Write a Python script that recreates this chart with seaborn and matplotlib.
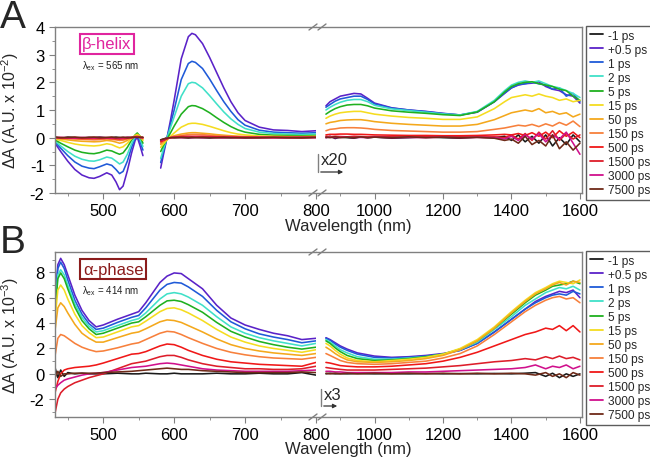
import numpy as np
import pandas as pd
import matplotlib
matplotlib.use('Agg')
import matplotlib.pyplot as plt
from matplotlib.lines import Line2D
from matplotlib.ticker import MultipleLocator
import seaborn as sns

# --- data ---------------------------------------------------------------
DELAYS = ['-1 ps', '+0.5 ps', '1 ps', '2 ps', '5 ps', '15 ps', '50 ps',
          '150 ps', '500 ps', '1500 ps', '3000 ps', '7500 ps']
COLORS = ['#1a1a1a', '#5a22c8', '#1f5ad8', '#40e0c8', '#1fb01f', '#f5dc20',
          '#f4a81c', '#f7803c', '#f01818', '#dd1d2a', '#d0108c', '#6e2a18']

# panel A, visible part below the pump (x 10^-2)
A_VIS1_WL = [432, 440, 450, 460, 470, 480, 487, 495, 505, 512, 518, 523, 528,
             534, 540, 545, 548, 552, 556]
A_VIS1 = [
    [0.02, -0.03, 0.02, 0.0, -0.02, 0.01, 0.0, 0.02, -0.01, 0.0, 0.02, 0.0, -0.02, 0.01, 0.0, 0.02, 0.0, -0.01, 0.01],
    [-0.2, -0.5, -0.85, -1.15, -1.35, -1.45, -1.47, -1.4, -1.27, -1.35, -1.6, -1.88, -1.75, -1.2, -0.55, -0.1, 0.02, -0.3, -0.65],
    [-0.15, -0.38, -0.65, -0.88, -1.03, -1.1, -1.12, -1.05, -0.95, -1.0, -1.15, -1.3, -1.22, -0.85, -0.35, -0.02, 0.08, -0.15, -0.45],
    [-0.12, -0.3, -0.5, -0.67, -0.78, -0.84, -0.85, -0.8, -0.7, -0.74, -0.85, -0.95, -0.88, -0.6, -0.22, 0.04, 0.12, -0.05, -0.32],
    [-0.08, -0.2, -0.33, -0.45, -0.53, -0.57, -0.58, -0.54, -0.45, -0.48, -0.55, -0.6, -0.55, -0.35, -0.08, 0.1, 0.17, 0.05, -0.2],
    [-0.05, -0.1, -0.17, -0.23, -0.27, -0.29, -0.3, -0.28, -0.22, -0.25, -0.32, -0.37, -0.33, -0.2, -0.03, 0.08, 0.12, 0.05, -0.1],
    [-0.02, -0.05, -0.08, -0.11, -0.13, -0.14, -0.15, -0.14, -0.1, -0.12, -0.16, -0.2, -0.17, -0.1, 0.0, 0.06, 0.08, 0.04, -0.05],
    [0.0, -0.02, -0.04, -0.05, -0.06, -0.07, -0.08, -0.07, -0.05, -0.06, -0.08, -0.1, -0.09, -0.05, 0.0, 0.04, 0.05, 0.02, -0.02],
    [0.0, -0.01, -0.02, -0.02, -0.03, -0.03, -0.03, -0.03, -0.02, -0.03, -0.04, -0.05, -0.04, -0.02, 0.0, 0.02, 0.03, 0.01, 0.0],
    [0.01, 0.0, -0.01, 0.01, -0.01, 0.0, 0.01, -0.01, 0.0, 0.01, -0.02, -0.02, -0.01, 0.0, 0.01, 0.02, 0.02, 0.0, 0.01],
    [0.0, 0.01, 0.0, -0.01, 0.01, 0.0, -0.01, 0.01, 0.0, -0.01, 0.0, -0.01, 0.0, 0.01, 0.0, 0.01, 0.02, 0.01, 0.0],
    [0.02, 0.0, 0.01, 0.02, 0.0, 0.01, 0.02, 0.0, 0.01, 0.02, 0.0, 0.01, 0.02, 0.0, 0.01, 0.02, 0.01, 0.02, 0.01],
]

# panel A, visible part above the pump
A_VIS2_WL = [581, 585, 590, 595, 600, 610, 620, 625, 630, 640, 650, 660, 670,
             680, 690, 700, 720, 740, 760, 780, 800]
A_VIS2 = [
    [-0.08, -0.05, 0.0, 0.02, 0.0, 0.01, -0.01, 0.0, 0.01, 0.0, -0.01, 0.01, 0.0, 0.0, 0.01, -0.01, 0.0, 0.01, 0.0, -0.01, 0.02],
    [-1.1, -0.6, 0.0, 0.65, 1.35, 2.85, 3.65, 3.77, 3.72, 3.4, 2.9, 2.35, 1.8, 1.3, 0.9, 0.62, 0.38, 0.28, 0.26, 0.22, 0.25],
    [-0.9, -0.5, 0.0, 0.5, 1.0, 2.1, 2.68, 2.76, 2.72, 2.5, 2.12, 1.7, 1.3, 0.95, 0.65, 0.45, 0.27, 0.2, 0.18, 0.16, 0.18],
    [-0.75, -0.4, 0.0, 0.38, 0.75, 1.5, 1.95, 2.0, 1.98, 1.8, 1.52, 1.22, 0.93, 0.68, 0.48, 0.33, 0.2, 0.15, 0.13, 0.12, 0.13],
    [-0.5, -0.28, -0.05, 0.18, 0.42, 0.85, 1.12, 1.16, 1.15, 1.05, 0.9, 0.72, 0.55, 0.4, 0.28, 0.2, 0.12, 0.09, 0.08, 0.07, 0.08],
    [-0.35, -0.22, -0.08, 0.05, 0.17, 0.38, 0.5, 0.52, 0.52, 0.48, 0.41, 0.33, 0.25, 0.18, 0.13, 0.1, 0.06, 0.05, 0.04, 0.04, 0.05],
    [-0.25, -0.15, -0.05, 0.02, 0.07, 0.13, 0.17, 0.18, 0.18, 0.16, 0.14, 0.11, 0.09, 0.07, 0.05, 0.04, 0.03, 0.02, 0.02, 0.02, 0.03],
    [-0.2, -0.12, -0.04, 0.0, 0.04, 0.08, 0.11, 0.12, 0.12, 0.11, 0.09, 0.07, 0.06, 0.05, 0.04, 0.03, 0.02, 0.02, 0.01, 0.01, 0.02],
    [-0.15, -0.1, -0.04, 0.0, 0.02, 0.04, 0.05, 0.05, 0.05, 0.05, 0.04, 0.03, 0.03, 0.02, 0.02, 0.01, 0.01, 0.01, 0.0, 0.01, 0.01],
    [-0.12, -0.08, -0.03, 0.0, 0.01, 0.02, 0.02, 0.03, 0.02, 0.02, 0.02, 0.01, 0.01, 0.01, 0.0, 0.01, 0.0, 0.0, 0.01, 0.0, 0.01],
    [-0.1, -0.07, -0.02, 0.0, 0.01, 0.0, 0.01, 0.0, 0.01, 0.0, 0.01, 0.0, 0.0, 0.01, 0.0, 0.0, 0.01, 0.0, 0.0, 0.01, 0.0],
    [-0.08, -0.05, -0.02, 0.0, 0.0, 0.01, 0.0, 0.01, 0.0, 0.01, 0.0, 0.0, 0.01, 0.0, 0.0, 0.0, 0.0, 0.01, 0.0, 0.0, 0.01],
]

# panel A, near infrared (already multiplied by 20)
A_NIR_WL = [858, 870, 885, 900, 920, 940, 960, 980, 1000, 1050, 1100, 1150, 1200,
            1250, 1300, 1350, 1380, 1400, 1420, 1440, 1460, 1480, 1500, 1520,
            1540, 1560, 1580, 1600]
A_NIR = [
    [0.0, 0.05, -0.03, 0.02, 0.0, -0.02, 0.03, 0.0, 0.02, -0.02, 0.0, 0.03, 0.0, -0.02, 0.02, 0.0, 0.05, -0.1, 0.1, -0.15, 0.05, -0.2, 0.1, -0.3, 0.0, -0.25, 0.1, -0.15],
    [1.15, 1.3, 1.4, 1.5, 1.55, 1.6, 1.58, 1.42, 1.25, 1.08, 1.0, 0.95, 0.88, 0.82, 0.92, 1.3, 1.6, 1.8, 1.9, 1.95, 1.97, 2.02, 1.85, 1.75, 1.7, 1.55, 1.5, 1.25],
    [1.1, 1.2, 1.32, 1.4, 1.45, 1.5, 1.5, 1.38, 1.22, 1.07, 1.0, 0.94, 0.87, 0.82, 0.93, 1.3, 1.62, 1.8, 1.92, 1.95, 2.0, 1.95, 1.9, 1.75, 1.8, 1.5, 1.6, 1.3],
    [1.0, 1.1, 1.2, 1.28, 1.35, 1.38, 1.38, 1.3, 1.17, 1.04, 0.98, 0.92, 0.86, 0.82, 0.95, 1.35, 1.7, 1.9, 2.0, 2.05, 2.0, 2.05, 1.95, 1.85, 1.8, 1.7, 1.6, 1.45],
    [0.85, 0.95, 1.05, 1.12, 1.18, 1.2, 1.2, 1.15, 1.07, 0.97, 0.92, 0.88, 0.83, 0.8, 0.93, 1.3, 1.65, 1.85, 1.95, 2.0, 2.02, 1.95, 1.9, 1.85, 1.75, 1.7, 1.5, 1.35],
    [0.7, 0.78, 0.85, 0.9, 0.93, 0.95, 0.95, 0.9, 0.85, 0.78, 0.73, 0.7, 0.66, 0.66, 0.75, 1.05, 1.3, 1.45, 1.5, 1.55, 1.5, 1.58, 1.5, 1.45, 1.35, 1.4, 1.3, 1.35],
    [0.5, 0.55, 0.58, 0.62, 0.64, 0.65, 0.65, 0.62, 0.58, 0.52, 0.48, 0.45, 0.42, 0.42, 0.48, 0.65, 0.8, 0.9, 0.95, 1.0, 0.95, 1.05, 0.9, 0.95, 0.85, 0.9, 0.75, 0.85],
    [0.25, 0.3, 0.32, 0.35, 0.36, 0.36, 0.35, 0.33, 0.3, 0.26, 0.24, 0.22, 0.2, 0.2, 0.22, 0.3, 0.35, 0.4, 0.45, 0.42, 0.48, 0.4, 0.5, 0.42, 0.55, 0.45, 0.6, 0.4],
    [0.1, 0.12, 0.12, 0.13, 0.13, 0.12, 0.12, 0.11, 0.1, 0.09, 0.08, 0.08, 0.07, 0.07, 0.08, 0.1, 0.12, 0.1, 0.15, 0.08, 0.18, 0.05, 0.2, 0.0, 0.25, 0.05, 0.2, 0.0],
    [0.05, 0.03, 0.05, 0.04, 0.03, 0.05, 0.04, 0.03, 0.04, 0.03, 0.02, 0.03, 0.02, 0.03, 0.02, 0.03, 0.0, 0.1, -0.05, 0.15, -0.1, 0.2, -0.05, 0.25, -0.1, 0.15, -0.05, 0.1],
    [0.0, 0.02, 0.0, 0.01, 0.02, 0.0, 0.01, 0.0, 0.02, 0.0, 0.01, 0.0, 0.02, 0.0, 0.01, 0.0, -0.05, 0.05, -0.1, 0.1, -0.05, 0.15, -0.15, 0.1, -0.05, 0.2, -0.2, -0.6],
    [0.02, 0.0, 0.03, 0.0, 0.02, 0.0, 0.03, 0.0, 0.02, 0.0, 0.03, 0.0, 0.02, 0.0, 0.01, -0.02, -0.1, -0.05, -0.2, 0.05, -0.25, -0.1, -0.3, 0.1, -0.4, -0.15, -0.45, -0.2],
]

# panel B, visible (x 10^-3)
B_VIS_WL = [432, 436, 440, 445, 450, 460, 470, 480, 490, 500, 520, 540, 550, 560,
            580, 590, 600, 610, 620, 640, 660, 680, 700, 720, 740, 760, 780, 800]
B_VIS = [
    [0.5, -0.3, 0.3, -0.2, 0.1, 0.0, 0.05, 0.0, 0.0, 0.0, 0.05, 0.0, 0.0, 0.05, 0.0, 0.0, 0.05, 0.0, 0.0, 0.0, 0.05, 0.0, 0.0, 0.05, 0.0, 0.0, 0.1, -0.1],
    [5.7, 8.6, 9.1, 8.6, 7.8, 6.2, 5.0, 4.2, 3.7, 3.85, 4.3, 4.7, 4.9, 5.6, 7.2, 7.7, 7.95, 7.9, 7.5, 6.7, 5.4, 4.4, 3.85, 3.5, 3.2, 3.0, 2.7, 2.8],
    [5.3, 8.3, 8.8, 8.3, 7.4, 5.8, 4.7, 3.95, 3.5, 3.6, 4.05, 4.45, 4.6, 5.2, 6.6, 7.05, 7.2, 7.15, 6.85, 6.1, 5.0, 4.1, 3.55, 3.15, 2.9, 2.7, 2.45, 2.6],
    [5.0, 7.8, 8.2, 7.8, 7.0, 5.5, 4.45, 3.75, 3.3, 3.4, 3.8, 4.2, 4.35, 4.8, 5.9, 6.3, 6.4, 6.3, 6.05, 5.4, 4.5, 3.7, 3.2, 2.85, 2.6, 2.4, 2.2, 2.4],
    [4.8, 7.5, 7.95, 7.5, 6.7, 5.25, 4.2, 3.55, 3.1, 3.2, 3.6, 4.0, 4.1, 4.5, 5.4, 5.75, 5.8, 5.7, 5.45, 4.85, 4.05, 3.35, 2.9, 2.55, 2.3, 2.1, 1.95, 2.1],
    [4.3, 6.6, 7.0, 6.6, 5.9, 4.7, 3.8, 3.25, 2.85, 2.9, 3.3, 3.7, 3.8, 4.15, 4.9, 5.15, 5.2, 5.05, 4.8, 4.2, 3.5, 2.9, 2.5, 2.2, 2.0, 1.85, 1.7, 1.9],
    [3.4, 5.2, 5.6, 5.3, 4.8, 3.9, 3.2, 2.8, 2.5, 2.5, 2.85, 3.2, 3.3, 3.55, 4.1, 4.25, 4.2, 4.05, 3.8, 3.3, 2.75, 2.3, 2.0, 1.8, 1.65, 1.55, 1.45, 1.6],
    [1.4, 2.8, 3.1, 3.0, 2.8, 2.4, 2.1, 1.9, 1.75, 1.8, 2.05, 2.35, 2.45, 2.7, 3.2, 3.35, 3.3, 3.1, 2.85, 2.4, 2.0, 1.7, 1.5, 1.35, 1.25, 1.2, 1.15, 1.3],
    [-1.5, -0.6, 0.0, 0.3, 0.4, 0.5, 0.55, 0.6, 0.7, 0.85, 1.2, 1.55, 1.6, 1.75, 2.2, 2.35, 2.3, 2.1, 1.85, 1.45, 1.15, 0.95, 0.85, 0.75, 0.7, 0.65, 0.6, 0.9],
    [-3.1, -2.0, -1.5, -1.2, -1.0, -0.7, -0.5, -0.3, -0.15, 0.0, 0.4, 0.8, 0.9, 1.0, 1.35, 1.45, 1.45, 1.3, 1.1, 0.8, 0.6, 0.5, 0.4, 0.4, 0.35, 0.35, 0.4, 0.6],
    [-1.2, -0.9, -0.7, -0.5, -0.4, -0.25, -0.1, 0.0, 0.05, 0.1, 0.3, 0.5, 0.55, 0.6, 0.8, 0.85, 0.8, 0.7, 0.6, 0.4, 0.3, 0.25, 0.2, 0.2, 0.2, 0.2, 0.25, 0.3],
    [-0.3, 0.2, -0.2, 0.0, 0.0, 0.05, 0.05, 0.05, 0.05, 0.1, 0.15, 0.2, 0.25, 0.3, 0.4, 0.45, 0.4, 0.35, 0.35, 0.25, 0.2, 0.15, 0.1, 0.1, 0.1, 0.1, 0.15, 0.1],
]

# panel B, near infrared (already multiplied by 3)
B_NIR_WL = [858, 870, 885, 900, 920, 950, 1000, 1050, 1100, 1150, 1200, 1250,
            1300, 1350, 1400, 1440, 1470, 1500, 1520, 1540, 1560, 1580, 1600]
B_NIR = [
    [0.0, 0.05, 0.0, 0.02, 0.0, 0.03, 0.0, 0.02, 0.0, 0.03, 0.0, 0.02, 0.0, 0.03, 0.0, 0.05, 0.1, -0.2, 0.05, -0.3, 0.0, -0.2, 0.0],
    [2.85, 2.7, 2.45, 2.2, 1.95, 1.65, 1.4, 1.3, 1.35, 1.45, 1.6, 1.85, 2.4, 3.3, 4.3, 5.1, 5.7, 6.1, 6.3, 6.5, 6.4, 6.6, 6.0],
    [2.8, 2.65, 2.35, 2.1, 1.85, 1.55, 1.3, 1.25, 1.3, 1.4, 1.55, 1.85, 2.4, 3.3, 4.3, 5.1, 5.6, 6.0, 6.2, 6.3, 6.2, 6.5, 6.3],
    [2.7, 2.5, 2.2, 1.9, 1.65, 1.35, 1.15, 1.15, 1.25, 1.35, 1.55, 1.9, 2.5, 3.5, 4.5, 5.4, 5.9, 6.4, 6.6, 6.8, 6.7, 6.9, 6.6],
    [2.6, 2.4, 2.05, 1.75, 1.45, 1.2, 1.05, 1.1, 1.2, 1.35, 1.55, 1.95, 2.6, 3.6, 4.7, 5.6, 6.2, 6.6, 6.9, 7.0, 7.1, 7.3, 7.1],
    [2.4, 2.2, 1.85, 1.55, 1.25, 1.05, 0.95, 1.05, 1.15, 1.3, 1.55, 2.0, 2.7, 3.7, 4.9, 5.8, 6.4, 6.8, 7.1, 7.3, 7.2, 7.1, 7.4],
    [2.1, 1.9, 1.6, 1.35, 1.1, 0.95, 0.9, 0.95, 1.05, 1.2, 1.45, 1.9, 2.6, 3.6, 4.8, 5.7, 6.3, 6.7, 7.0, 7.2, 7.0, 7.3, 7.2],
    [1.6, 1.45, 1.25, 1.05, 0.9, 0.8, 0.75, 0.8, 0.9, 1.0, 1.25, 1.6, 2.2, 3.1, 4.1, 4.9, 5.4, 5.8, 6.0, 6.1, 5.9, 6.0, 5.6],
    [0.9, 0.85, 0.75, 0.65, 0.6, 0.55, 0.55, 0.6, 0.7, 0.8, 1.0, 1.3, 1.7, 2.2, 2.7, 3.1, 3.3, 3.6, 3.5, 3.8, 3.4, 3.8, 3.3],
    [0.5, 0.45, 0.4, 0.35, 0.3, 0.3, 0.3, 0.35, 0.4, 0.45, 0.55, 0.65, 0.8, 0.95, 1.05, 1.2, 1.1, 1.35, 1.2, 1.4, 1.2, 1.3, 1.1],
    [0.2, 0.2, 0.15, 0.15, 0.1, 0.1, 0.1, 0.1, 0.15, 0.15, 0.2, 0.25, 0.3, 0.35, 0.4, 0.5, 0.7, 0.4, 0.6, 0.5, 0.7, 0.4, 0.6],
    [0.05, 0.0, 0.05, 0.0, 0.05, 0.0, 0.05, 0.0, 0.05, 0.0, 0.05, 0.0, 0.05, 0.0, 0.05, 0.0, -0.1, 0.1, -0.2, 0.0, -0.3, 0.1, -0.1],
]

# --- style ------------------------------------------------------------------
sns.set_style('ticks')
plt.rcParams['font.family'] = ['Liberation Sans', 'DejaVu Sans']
plt.rcParams['mathtext.fontset'] = 'custom'
plt.rcParams['mathtext.rm'] = 'Liberation Sans'
plt.rcParams['axes.unicode_minus'] = False

FRAME = '#808080'
W, H = 650, 460


def fx(px):
    return px / W


def fy(py):
    return 1 - py / H


def long_frame(wl, rows):
    recs = []
    for label, vals in zip(DELAYS, rows):
        for w, v in zip(wl, vals):
            recs.append((label, w, v))
    return pd.DataFrame(recs, columns=['delay', 'wl', 'dA'])


def draw(ax, wl, rows):
    df = long_frame(wl, rows)
    sns.lineplot(data=df, x='wl', y='dA', hue='delay', hue_order=DELAYS,
                 palette=COLORS, estimator=None, sort=False, lw=1.15,
                 legend=False, ax=ax)


def style_axis(ax, left=True):
    for s in ax.spines.values():
        s.set_color(FRAME)
        s.set_linewidth(1.0)
    ax.tick_params(which='both', direction='out', colors=FRAME,
                   labelcolor='black', labelsize=12)
    ax.tick_params(which='major', length=4)
    ax.tick_params(which='minor', length=2.5)
    ax.set_xlabel('')
    ax.set_ylabel('')
    if left:
        ax.spines['right'].set_visible(False)
    else:
        ax.spines['left'].set_visible(False)
        ax.tick_params(axis='y', which='both', left=False, labelleft=False)


def break_marks(fig, top_px, bot_px):
    for ypx in (top_px, bot_px):
        for xc in (313, 322):
            fig.add_artist(Line2D([fx(xc - 4), fx(xc + 4)], [fy(ypx + 3), fy(ypx - 3)],
                                  color=FRAME, lw=1.0))


fig = plt.figure(figsize=(6.5, 4.6), dpi=100)

panels = [
    dict(top=28, bot=194, ylim=(-2, 4), major=1, minor=0.5,
         ylabel='ΔA (A.U. x 10$^{\\mathregular{-2}}$)',
         vis=[(A_VIS1_WL, A_VIS1), (A_VIS2_WL, A_VIS2)], nir=(A_NIR_WL, A_NIR),
         letter='A', tag='β-helix', tagcolor='#e0259f', tagx=107, lam='565',
         factor='x20', fac_px=(318, 155, 173, 346)),
    dict(top=253, bot=418, ylim=(-3.4, 9.6), major=2, minor=1,
         ylabel='ΔA (A.U. x 10$^{\\mathregular{-3}}$)',
         vis=[(B_VIS_WL, B_VIS)], nir=(B_NIR_WL, B_NIR),
         letter='B', tag='α-phase', tagcolor='#8b1c1c', tagx=113, lam='414',
         factor='x3', fac_px=(321, 390, 407, 340)),
]

for p in panels:
    bottom = fy(p['bot'])
    height = (p['bot'] - p['top']) / H
    axl = fig.add_axes([fx(55), bottom, fx(316) - fx(55), height])
    axr = fig.add_axes([fx(316), bottom, fx(582) - fx(316), height])

    for wl, rows in p['vis']:
        draw(axl, wl, rows)
    draw(axr, *p['nir'])

    axl.set_xlim(432, 800)
    axr.set_xlim(829, 1606)
    for ax in (axl, axr):
        ax.set_ylim(*p['ylim'])
        ax.yaxis.set_major_locator(MultipleLocator(p['major']))
        ax.yaxis.set_minor_locator(MultipleLocator(p['minor']))
    axl.set_xticks([500, 600, 700, 800])
    axl.xaxis.set_minor_locator(MultipleLocator(50))
    axr.set_xticks([1000, 1200, 1400, 1600])
    axr.xaxis.set_minor_locator(MultipleLocator(100))
    style_axis(axl, left=True)
    style_axis(axr, left=False)
    axl.set_ylabel(p['ylabel'], fontsize=11.5)
    axl.yaxis.set_label_coords(-0.13, 0.5)

    break_marks(fig, p['top'], p['bot'])

    # panel letter and x label
    fig.text(fx(0), fy(p['top'] - 28), p['letter'], fontsize=28, va='top', ha='left')
    fig.text(fx(348), fy(p['bot'] + 32), 'Wavelength (nm)', fontsize=12,
             ha='center', va='center')

    # sample tag and excitation wavelength
    fig.text(fx(p['tagx']), fy(p['top'] + 17), p['tag'], fontsize=12,
             color=p['tagcolor'], ha='center', va='center',
             bbox=dict(boxstyle='square,pad=0.15', fc='white',
                       ec=p['tagcolor'], lw=1.5))
    fig.text(fx(82), fy(p['top'] + 38), 'λ$_{\\mathregular{ex}}$ = ' + p['lam'] + ' nm',
             fontsize=7, ha='left', va='center', color='#222222')

    # multiplier marker for the NIR part
    x0, y0, y1, x1 = p['fac_px']
    fig.add_artist(Line2D([fx(x0), fx(x0)], [fy(y0), fy(y1)], color=FRAME, lw=1.0))
    fig.add_artist(matplotlib.patches.FancyArrowPatch(
        (fx(x0), fy(y1)), (fx(x1), fy(y1)), transform=fig.transFigure,
        arrowstyle='-|>', mutation_scale=6, color='#333333', lw=0.9))
    fig.text(fx(x0 + 3), fy(y0 + 6), p['factor'], fontsize=12, ha='left',
             va='center')

    # legend
    handles = [Line2D([], [], color=c, lw=1.3) for c in COLORS]
    leg = fig.legend(handles, DELAYS, loc='upper left',
                     bbox_to_anchor=(fx(586), fy(p['top'] - 1)),
                     fontsize=8.6, frameon=True, fancybox=False,
                     handlelength=1.1, handletextpad=0.4, labelspacing=0.17,
                     borderpad=0.3, borderaxespad=0)
    leg.get_frame().set_edgecolor('#333333')
    leg.get_frame().set_linewidth(1.0)

fig.savefig('out.png', dpi=100)
